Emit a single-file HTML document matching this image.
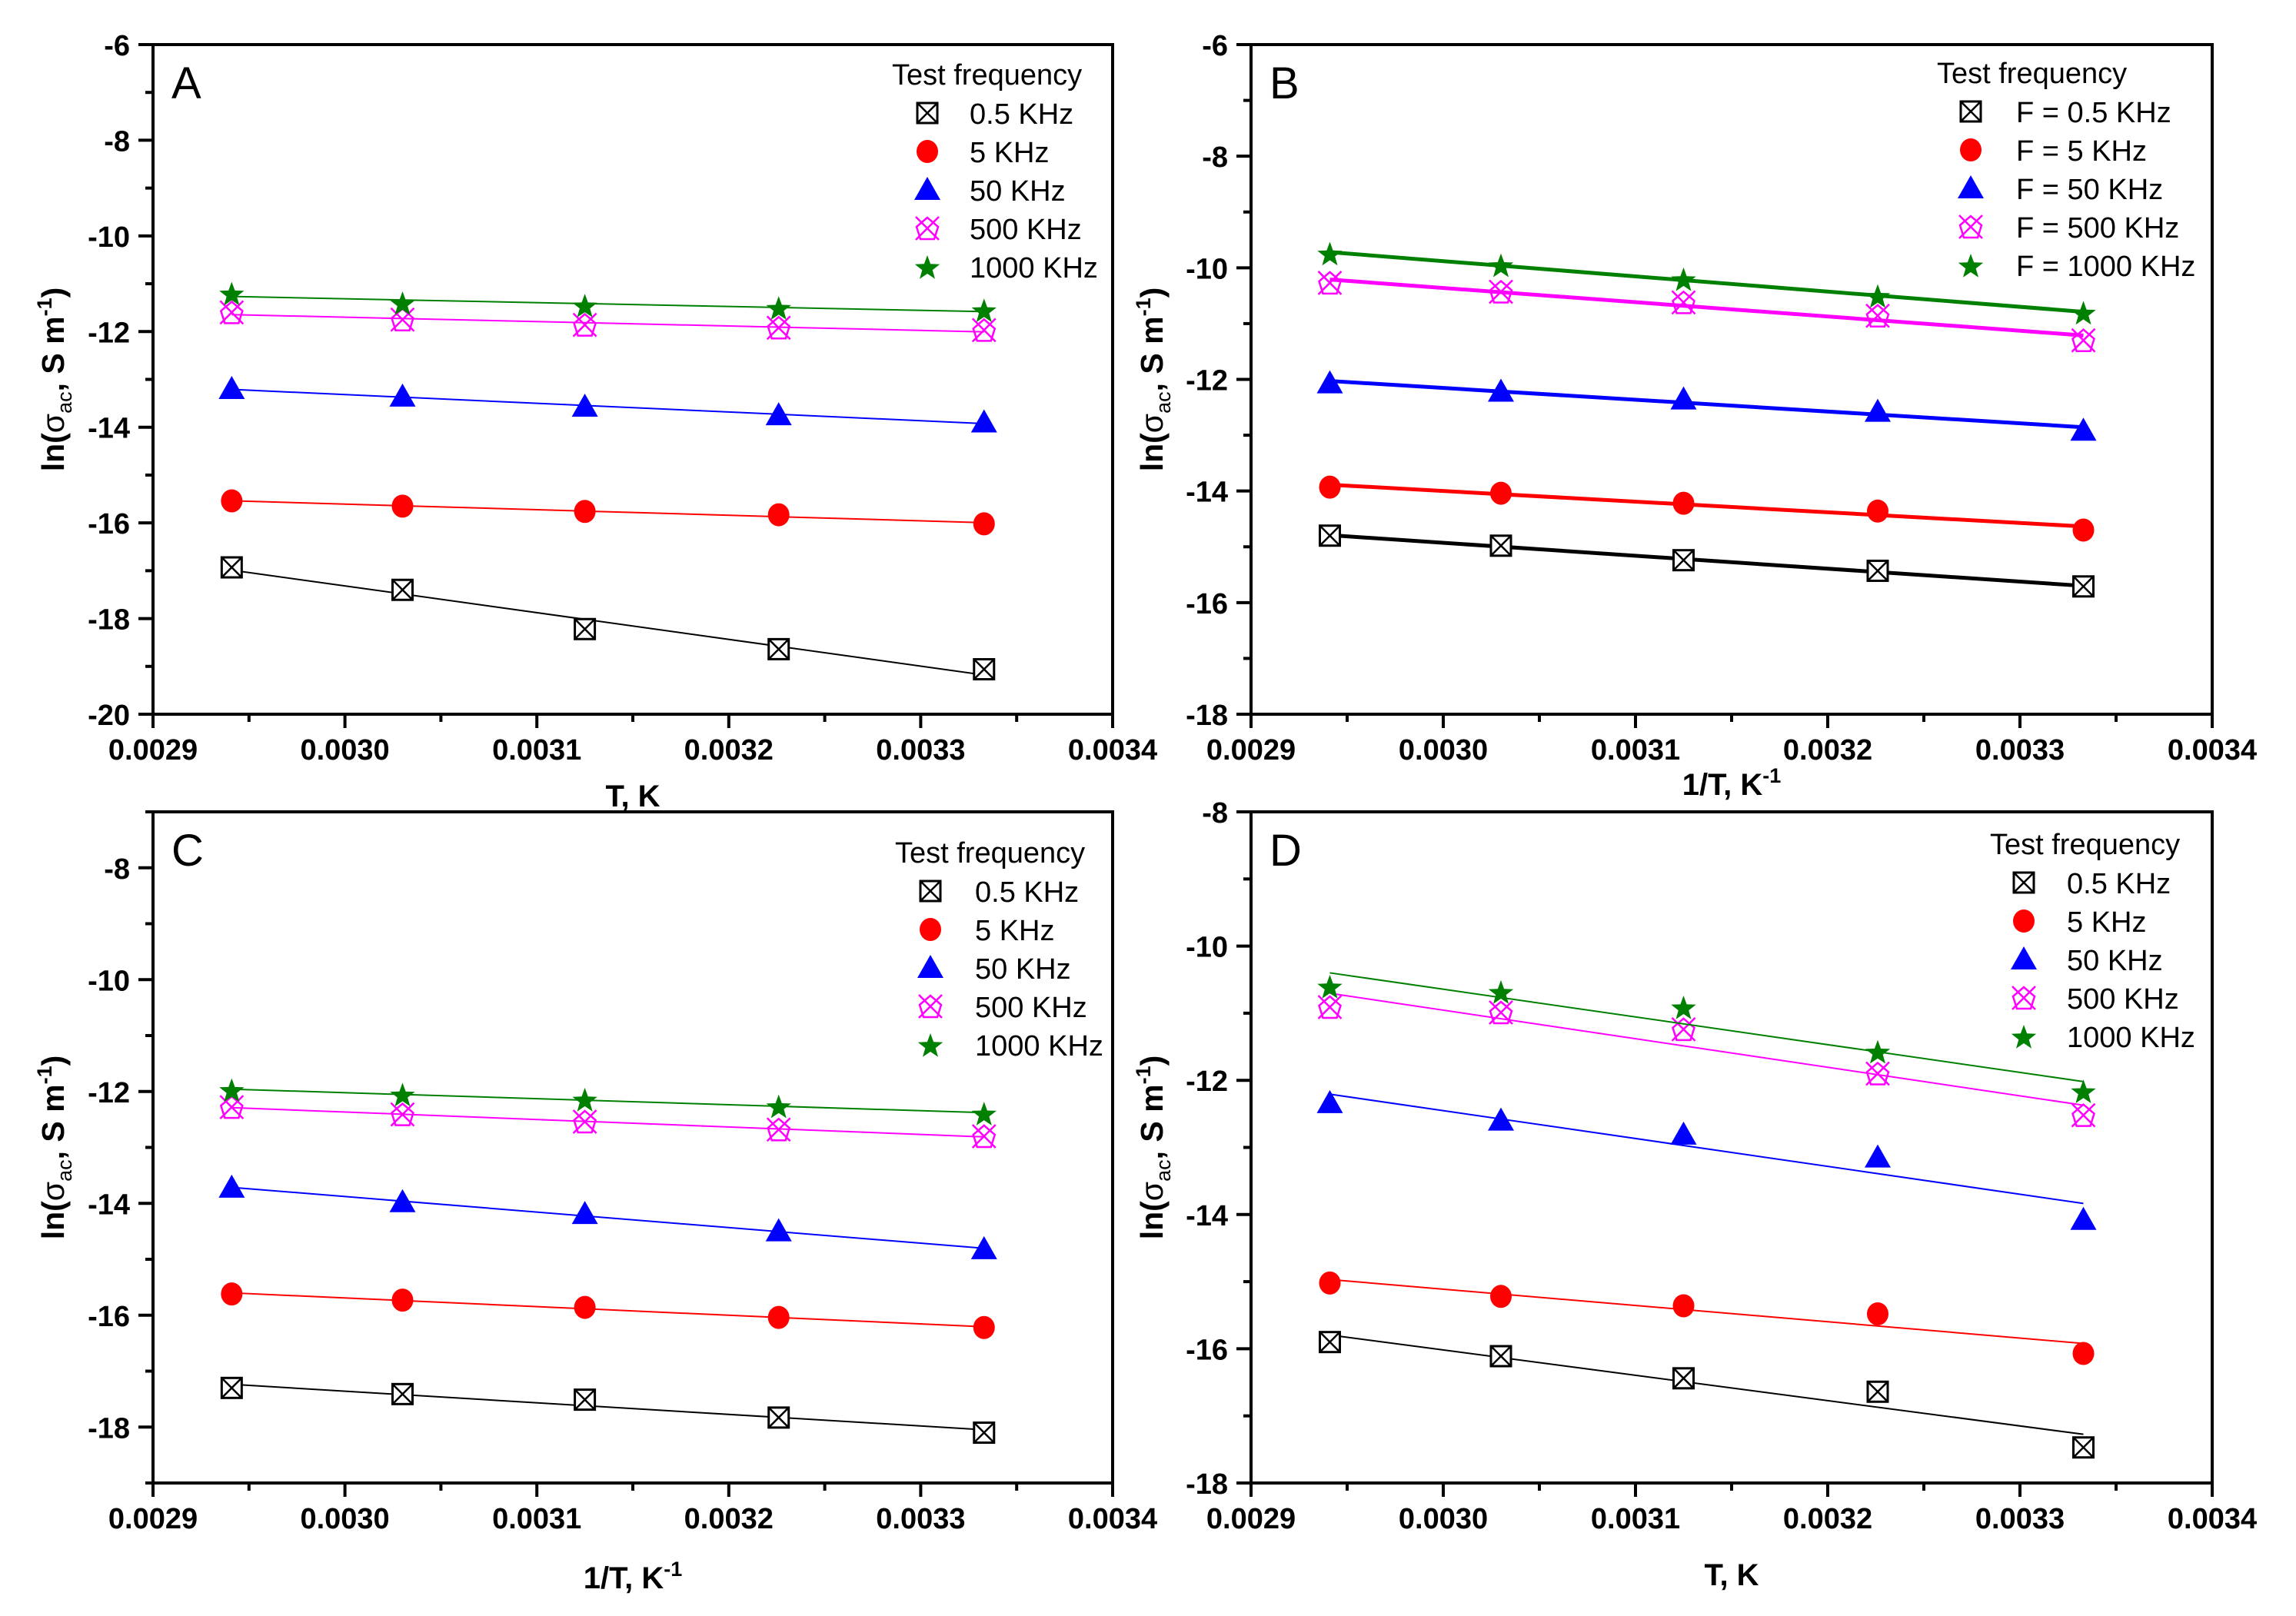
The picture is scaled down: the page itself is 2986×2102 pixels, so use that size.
<!DOCTYPE html>
<html><head><meta charset="utf-8"><style>
html,body{margin:0;padding:0;background:#fff;}
svg{display:block;font-family:"Liberation Sans",Arial,sans-serif;}
</style></head><body>
<svg id="fig" width="2986" height="2102" viewBox="0 0 2986 2102" xmlns="http://www.w3.org/2000/svg"></svg>
<script>
// shared data
const invT = [0.002941, 0.003030, 0.003125, 0.003226, 0.003333];
const seriesKeys = ['f05','f5','f50','f500','f1000'];
const seriesNames = ['0.5 KHz','5 KHz','50 KHz','500 KHz','1000 KHz'];
const xTicks = [0.0029,0.0030,0.0031,0.0032,0.0033,0.0034];
const xTickLabels = ['0.0029','0.0030','0.0031','0.0032','0.0033','0.0034'];
// panel A
const A_f05 = [-16.93,-17.40,-18.22,-18.64,-19.06];
const A_f5 = [-15.54,-15.65,-15.76,-15.83,-16.02];
const A_f50 = [-13.20,-13.36,-13.57,-13.75,-13.90];
const A_f500 = [-11.60,-11.75,-11.86,-11.92,-11.97];
const A_f1000 = [-11.20,-11.40,-11.45,-11.50,-11.55];
const A_yTicks = [-20,-18,-16,-14,-12,-10,-8,-6];
// panel B
const B_f05 = [-14.80,-14.98,-15.24,-15.43,-15.71];
const B_f5 = [-13.93,-14.04,-14.22,-14.36,-14.70];
const B_f50 = [-12.07,-12.22,-12.36,-12.58,-12.92];
const B_f500 = [-10.27,-10.43,-10.62,-10.86,-11.30];
const B_f1000 = [-9.74,-9.95,-10.20,-10.50,-10.80];
const B_yTicks = [-18,-16,-14,-12,-10,-8,-6];
// panel C
const C_f05 = [-17.30,-17.41,-17.51,-17.83,-18.10];
const C_f5 = [-15.62,-15.73,-15.86,-16.04,-16.22];
const C_f50 = [-13.72,-13.98,-14.19,-14.50,-14.82];
const C_f500 = [-12.28,-12.41,-12.54,-12.68,-12.80];
const C_f1000 = [-11.97,-12.05,-12.14,-12.26,-12.39];
const C_yTicks = [-18,-16,-14,-12,-10,-8];
// panel D
const D_f05 = [-15.90,-16.11,-16.44,-16.64,-17.47];
const D_f5 = [-15.02,-15.22,-15.36,-15.48,-16.07];
const D_f50 = [-12.34,-12.60,-12.81,-13.15,-14.08];
const D_f500 = [-10.91,-10.99,-11.24,-11.90,-12.52];
const D_f1000 = [-10.60,-10.68,-10.91,-11.57,-12.16];
const D_yTicks = [-18,-16,-14,-12,-10,-8];

const NS='http://www.w3.org/2000/svg';
const svg=document.getElementById('fig');
function mk(tag,attrs,parent){const e=document.createElementNS(NS,tag);for(const k in attrs)e.setAttribute(k,attrs[k]);(parent||svg).appendChild(e);return e;}
const colors=['#000','#ff0000','#0000ff','#ff00ff','#008000'];

function marker(g,k,cx,cy){
  const s=14;
  if(k===0){
    mk('rect',{x:cx-s+1,y:cy-s+1,width:2*s-2,height:2*s-2,fill:'#fff',stroke:'#000','stroke-width':3},g);
    mk('path',{d:`M${cx-s+1} ${cy-s+1}L${cx+s-1} ${cy+s-1}M${cx+s-1} ${cy-s+1}L${cx-s+1} ${cy+s-1}`,stroke:'#000','stroke-width':2.5,fill:'none'},g);
  }else if(k===1){
    mk('ellipse',{cx:cx,cy:cy,rx:14,ry:15,fill:'#ff0000'},g);
  }else if(k===2){
    mk('polygon',{points:`${cx},${cy-17} ${cx+17},${cy+13} ${cx-17},${cy+13}`,fill:'#0000ff'},g);
  }else if(k===3){
    mk('path',{d:`M${cx-15} ${cy-15}L${cx+15} ${cy+15}M${cx+15} ${cy-15}L${cx-15} ${cy+15}M${cx-14} ${cy-2}L${cx} ${cy-14}L${cx+14} ${cy-2}L${cx+9} ${cy+14}L${cx-9} ${cy+14}Z`,stroke:'#ff00ff','stroke-width':2.5,fill:'none'},g);
  }else{
    let p=[];for(let i=0;i<10;i++){const r=i%2?7:17;const a=-Math.PI/2+i*Math.PI/5;p.push((cx+r*Math.cos(a)).toFixed(1)+','+(cy+r*Math.sin(a)+2).toFixed(1));}
    mk('polygon',{points:p.join(' '),fill:'#008000'},g);
  }
}

function panel(o){
  const g=mk('g',{});
  
  
  const X=v=>o.L+(v-0.0029)/0.0005*(o.R-o.L);
  const Y=v=>o.B-(v-o.ymin)/(o.ymax-o.ymin)*(o.B-o.T);
  const fr=mk('rect',{x:o.L,y:o.T,width:o.R-o.L,height:o.B-o.T,fill:'none',stroke:'#000','stroke-width':4},g);
  
  
  const xa=mk('g',{},g);
  
  
  xTicks.forEach((t,i)=>{
    const x=X(t);
    mk('line',{x1:x,x2:x,y1:o.B,y2:o.B+18,stroke:'#000','stroke-width':4},xa);
    if(i<xTicks.length-1){const xm=X(t+0.00005);mk('line',{x1:xm,x2:xm,y1:o.B,y2:o.B+10,stroke:'#000','stroke-width':4},xa);}
    const tx=mk('text',{x:x,y:o.B+59,'text-anchor':'middle','font-size':38,'font-weight':'bold'},xa);
    tx.textContent=xTickLabels[i];
    
    
  });
  const ya=mk('g',{},g);
  
  
  o.yTicks.forEach((t,i)=>{
    const y=Y(t);
    mk('line',{x1:o.L-19,x2:o.L,y1:y,y2:y,stroke:'#000','stroke-width':4},ya);
    const ym=Y(t+1); if(t+1<o.ymax+0.01 && t+1>o.ymin) mk('line',{x1:o.L-10,x2:o.L,y1:ym,y2:ym,stroke:'#000','stroke-width':4},ya);
    const tx=mk('text',{x:o.L-30,y:y+14,'text-anchor':'end','font-size':38,'font-weight':'bold'},ya);
    tx.textContent=String(t);
    
    
  });
  if(o.yTicks[0]>o.ymin){const ym=Y(o.yTicks[0]-1);mk('line',{x1:o.L-10,x2:o.L,y1:ym,y2:ym,stroke:'#000','stroke-width':4},ya);}
  o.data.forEach((vals,k)=>{
    const sg=mk('g',{},g);
    
    
    const n=vals.length;let sx=0,sy=0,sxx=0,sxy=0;
    for(let i=0;i<n;i++){sx+=invT[i];sy+=vals[i];sxx+=invT[i]*invT[i];sxy+=invT[i]*vals[i];}
    const b=(n*sxy-sx*sy)/(n*sxx-sx*sx),a=(sy-b*sx)/n;
    const x0=invT[0],x1=invT[n-1];
    const ln=mk('line',{x1:X(x0),y1:Y(a+b*x0),x2:X(x1),y2:Y(a+b*x1),stroke:colors[k],'stroke-width':o.lw},sg);
    
    
    vals.forEach((v,i)=>{
      const mg=mk('g',{},sg);
      
      
      marker(mg,k,X(invT[i]),Y(v));
    });
  });
  const pl=mk('text',{x:o.L+24,y:o.T+70,'font-size':58},g);
  pl.textContent=o.id;
  
  
  const lg=mk('g',{},g);
  
  
  const lt=mk('text',{x:o.lx,y:o.ly,'font-size':38},lg);
  lt.textContent='Test frequency';
  
  
  seriesNames.forEach((nm,k)=>{
    const eg=mk('g',{},lg);
    
    
    const by=o.ly+51+k*50;
    marker(eg,k,o.mx,by-14);
    const t=mk('text',{x:o.tx,y:by,'font-size':38},eg);
    t.textContent=(o.prefix||'')+nm;
  });
  const xt=mk('text',{x:(o.L+o.R)/2,y:o.xty,'text-anchor':'middle','font-size':40,'font-weight':'bold'},g);
  
  
  if(o.inv){xt.innerHTML='1/T, K<tspan font-size="27" dy="-16">-1</tspan>';}else{xt.textContent='T, K';}
  const yt=mk('text',{x:0,y:0,'text-anchor':'middle','font-size':41,'font-weight':'bold',transform:`translate(${o.ytx},${(o.T+o.B)/2}) rotate(-90)`},g);
  
  
  yt.innerHTML='ln(<tspan font-weight="normal">σ</tspan><tspan font-size="27" font-weight="normal" dy="10">ac</tspan><tspan dy="-10">, S m</tspan><tspan font-size="27" dy="-16">-1</tspan><tspan dy="16">)</tspan>';
}

panel({id:'A',L:199,R:1447,T:58,B:929,ymin:-20,ymax:-6,yTicks:A_yTicks,data:[A_f05,A_f5,A_f50,A_f500,A_f1000],lw:2,lx:1160,ly:110,mx:1206,tx:1261,prefix:'',xty:1049,ytx:83,inv:false});
panel({id:'B',L:1627,R:2877,T:58,B:929,ymin:-18,ymax:-6,yTicks:B_yTicks,data:[B_f05,B_f5,B_f50,B_f500,B_f1000],lw:5,lx:2519,ly:108,mx:2563,tx:2622,prefix:'F = ',xty:1034,ytx:1512,inv:true});
panel({id:'C',L:199,R:1447,T:1056,B:1929,ymin:-19,ymax:-7,yTicks:C_yTicks,data:[C_f05,C_f5,C_f50,C_f500,C_f1000],lw:2,lx:1164,ly:1122,mx:1210,tx:1268,prefix:'',xty:2066,ytx:83,inv:true});
panel({id:'D',L:1627,R:2877,T:1056,B:1929,ymin:-18,ymax:-8,yTicks:D_yTicks,data:[D_f05,D_f5,D_f50,D_f500,D_f1000],lw:2,lx:2588,ly:1111,mx:2632,tx:2688,prefix:'',xty:2062,ytx:1512,inv:false});
</script>
</body></html>
